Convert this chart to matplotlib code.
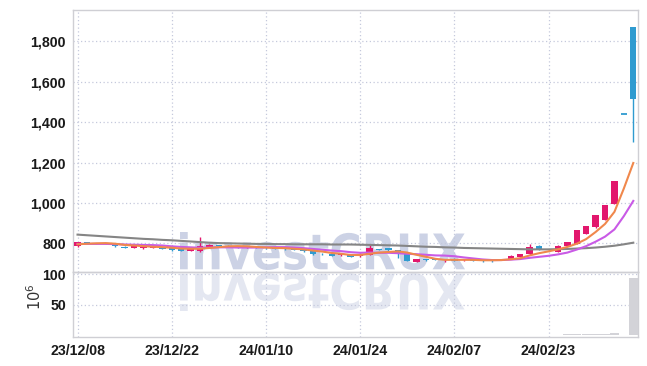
import matplotlib
matplotlib.use("Agg")
import matplotlib.pyplot as plt
import numpy as np
from matplotlib.textpath import TextPath
from matplotlib.font_manager import FontProperties
from matplotlib.patches import PathPatch
from matplotlib.transforms import Affine2D, IdentityTransform

plt.rcParams['font.family'] = ['Liberation Sans', 'DejaVu Sans']

# ---- data ----
date_labels = ["23/12/08", "23/12/22", "24/01/10", "24/01/24", "24/02/07", "24/02/23"]
label_idx = [0, 10, 20, 30, 40, 50]

opens = [787, 805, 800, 797, 792, 783, 777, 779, 777, 781,
         775, 770, 762, 762, 784, 792, 788, 782, 778, 781,
         778, 777, 776, 775, 766, 763, 747, 746, 742, 746,
         736, 742, 770, 777, 765, 746, 709, 720, 722, 717,
         724, 715, 718, 720, 719, 718, 722, 732, 746, 785,
         767, 757, 789, 798, 848, 881, 917, 997, 1440, 1872]
highs = [808, 807, 803, 802, 794, 785, 787, 786, 788, 783,
         777, 772, 778, 829, 795, 794, 790, 784, 784, 783,
         781, 779, 778, 777, 769, 765, 750, 748, 752, 748,
         750, 795, 774, 779, 768, 748, 724, 723, 724, 722,
         726, 721, 720, 722, 721, 721, 741, 748, 796, 790,
         772, 792, 808, 866, 888, 942, 992, 1110, 1440, 1872]
lows = [783, 798, 796, 795, 784, 776, 775, 772, 775, 771,
        764, 762, 760, 758, 782, 785, 782, 776, 776, 775,
        773, 771, 769, 766, 758, 744, 740, 737, 735, 730,
        733, 740, 765, 762, 726, 712, 707, 712, 715, 709,
        710, 713, 714, 706, 709, 715, 720, 730, 744, 767,
        760, 755, 786, 796, 845, 878, 915, 995, 1440, 1302]
closes = [805, 800, 798, 799, 786, 779, 785, 781, 785, 774,
          767, 764, 775, 786, 792, 788, 784, 778, 781, 777,
          776, 774, 771, 768, 763, 746, 745, 739, 749, 732,
          747, 775, 768, 765, 746, 714, 721, 717, 718, 720,
          714, 719, 717, 712, 716, 719, 739, 746, 782, 769,
          765, 789, 805, 864, 884, 939, 988, 1107, 1440, 1515]
ma5 = [795, 798, 800, 801, 798, 792, 789, 786, 783, 781,
       778, 774, 773, 773, 777, 781, 785, 786, 785, 782,
       779, 777, 776, 773, 770, 764, 759, 752, 748, 742,
       742, 748, 754, 757, 760, 754, 743, 733, 723, 718,
       718, 718, 718, 716, 716, 717, 721, 726, 740, 751,
       760, 770, 782, 798, 821, 856, 896, 956, 1072, 1198]
ma10 = [797, 797, 797, 797, 796, 794, 793, 792, 791, 789,
        785, 782, 780, 778, 779, 780, 780, 779, 779, 779,
        780, 781, 781, 779, 776, 772, 768, 764, 761, 756,
        753, 754, 753, 753, 751, 748, 746, 743, 740, 739,
        736, 730, 725, 720, 717, 717, 719, 722, 728, 733,
        738, 745, 754, 769, 786, 808, 833, 869, 935, 1010]
ma_long = [843, 840, 837, 834, 831, 828, 825, 822, 820, 817,
           815, 812, 809, 806, 803, 801, 800, 799, 798, 797,
           797, 796, 796, 795, 795, 795, 795, 794, 794, 794,
           793, 792, 791, 790, 789, 787, 785, 783, 782, 780,
           779, 777, 776, 775, 774, 773, 772, 771, 770, 770,
           770, 771, 772, 774, 776, 779, 783, 788, 795, 803]
volume = [0.4, 0.3, 0.3, 0.3, 0.3, 0.3, 0.3, 0.3, 0.3, 0.3,
          0.3, 0.3, 0.3, 0.5, 0.3, 0.3, 0.3, 0.3, 0.3, 0.3,
          0.3, 0.3, 0.3, 0.3, 0.3, 0.3, 0.3, 0.3, 0.3, 0.3,
          0.3, 0.5, 0.3, 0.3, 0.3, 0.3, 0.3, 0.3, 0.3, 0.3,
          0.3, 0.3, 0.3, 0.3, 0.3, 0.3, 0.4, 0.4, 0.6, 0.4,
          0.3, 0.6, 0.8, 2.0, 1.2, 1.8, 1.5, 3.0, 0.5, 94.0]
price_ticks = [800, 1000, 1200, 1400, 1600, 1800]
price_tick_labels = ["800", "1,000", "1,200", "1,400", "1,600", "1,800"]
vol_ticks = [50, 100]
vol_tick_labels = ["50", "100"]

# ---- style ----
UP = "#e2176d"
DOWN = "#2f9bd0"
GRID = "#c5c9dc"
SPINE = "#cfcfd4"
TXT = "#1a1a1a"
W, H = 647, 366
FS = 10.2

fig = plt.figure(figsize=(W / 100, H / 100), dpi=100)
fig.patch.set_facecolor("white")

ax = fig.add_axes([73 / W, 1 - 272 / H, 565 / W, 262 / H])
axv = fig.add_axes([73 / W, 1 - 337 / H, 565 / W, 65 / H], sharex=ax)
for a in (ax, axv):
    a.set_facecolor("none")
    for s in a.spines.values():
        s.set_color(SPINE)
        s.set_linewidth(1.0)
    a.tick_params(length=0, colors=TXT, labelsize=FS)

n = len(closes)
x = np.arange(n)

# candles
bw = 0.68
for i in range(n):
    o, h, l, c = opens[i], highs[i], lows[i], closes[i]
    col = UP if c > o else DOWN
    ax.vlines(x[i], l, h, color=col, linewidth=1.0, zorder=3)
    bottom = min(o, c)
    height = abs(c - o)
    if height < 2:
        ax.hlines((o + c) / 2, x[i] - bw / 2, x[i] + bw / 2, color=col, linewidth=1.3, zorder=4)
    else:
        ax.bar(x[i], height, bottom=bottom, width=bw, color=col, edgecolor=col, linewidth=0, zorder=4)

ax.plot(x, ma_long, color="#858585", linewidth=1.5, zorder=5)
ax.plot(x, ma10, color="#c95ae6", linewidth=1.5, zorder=5)
ax.plot(x, ma5, color="#f0884c", linewidth=1.5, zorder=5)

ax.set_xlim(-0.48, 59.5)
ax.set_ylim(657.8, 1956)
ax.set_yticks(price_ticks)
ax.set_yticklabels(price_tick_labels, fontweight="bold", fontsize=FS)
ax.grid(True, color=GRID, linestyle=(0, (1, 2)), linewidth=0.9)
ax.set_axisbelow(True)
ax.tick_params(axis="x", labelbottom=False)
ax.tick_params(axis="y", pad=5)

# volume
axv.bar(x, volume, width=0.98, color="#d3d3d8", zorder=3)
axv.set_ylim(-3.5, 103.5)
axv.set_yticks(vol_ticks)
axv.set_yticklabels(vol_tick_labels, fontweight="bold", fontsize=FS)
axv.set_xticks(label_idx)
axv.set_xticklabels(date_labels, fontweight="bold", fontsize=FS)
axv.grid(True, color=GRID, linestyle=(0, (1, 2)), linewidth=0.9)
axv.set_axisbelow(True)
axv.tick_params(axis="y", pad=5)
axv.tick_params(axis="x", pad=5)
ax.set_xticks(label_idx)

fig.text(35 / W, 1 - 297 / H, r"$10^6$", rotation=90, ha="center", va="center",
         fontsize=10.5, color="#333333")

# watermark "investCRUX" with reflection
fp = FontProperties(family="DejaVu Sans", weight="bold")
tp = TextPath((0, 0), "investCRUX", size=100, prop=fp)
ext = tp.get_extents()
x0, x1 = 180, 465
ytop, ybase = 232, 270
sx = (x1 - x0) / ext.width
sy = (ybase - ytop) / ext.height
tr = Affine2D().translate(-ext.x0, -ext.y0).scale(sx, sy).translate(x0, H - ybase)
wm = PathPatch(tr.transform_path(tp), facecolor="#ccd2e5", edgecolor="none",
               transform=IdentityTransform(), zorder=-5)
fig.add_artist(wm)
tr2 = Affine2D().translate(-ext.x0, -ext.y0).scale(sx, -sy).translate(x0, H - 273)
wm2 = PathPatch(tr2.transform_path(tp), facecolor="#e4e7f1", edgecolor="none",
                transform=IdentityTransform(), zorder=-5)
fig.add_artist(wm2)

fig.savefig("out.png", dpi=100, facecolor="white")
